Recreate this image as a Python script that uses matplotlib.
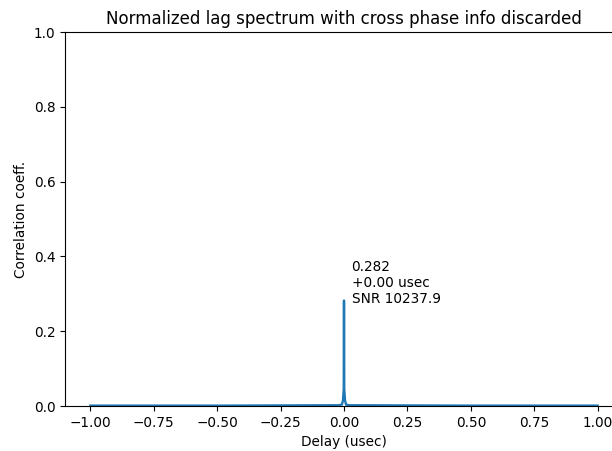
import matplotlib
matplotlib.use("Agg")
import matplotlib.pyplot as plt

# lag spectrum samples (delay in usec, normalized correlation)
delay = [-1.0, -0.5, -0.02, -0.008, -0.004, -0.001, 0.0, 0.001, 0.004, 0.008, 0.02, 0.5, 1.0]
corr = [0.001, 0.001, 0.002, 0.004, 0.015, 0.045, 0.282, 0.045, 0.015, 0.004, 0.002, 0.001, 0.001]

peak_delay = 0.0
peak_val = 0.282
snr = 10237.9

fig = plt.figure(figsize=(6.12, 4.51), dpi=100)
ax = fig.add_axes([65 / 612, 1 - 406 / 451, (623 - 65) / 612, (406 - 32) / 451])

ax.plot(delay, corr, color="#1f77b4", lw=1.7)
ax.set_ylim(0, 1)
ax.set_xlim(-1.1, 1.1)
ax.set_xticks([-1.0, -0.75, -0.5, -0.25, 0.0, 0.25, 0.5, 0.75, 1.0])

# peak annotation sits just right of the spike
ax.text(peak_delay + 0.03, peak_val - 0.015,
        f"{peak_val:.3f}\n{peak_delay:+.2f} usec\nSNR {snr:.1f}",
        ha="left", va="bottom", fontsize=9.8)

ax.set_title("Normalized lag spectrum with cross phase info discarded", fontsize=12)
ax.set_xlabel("Delay (usec)", fontsize=9.8)
ax.set_ylabel("Correlation coeff.", fontsize=9.8)
ax.tick_params(labelsize=9.8)

fig.savefig("out.png", dpi=100)
